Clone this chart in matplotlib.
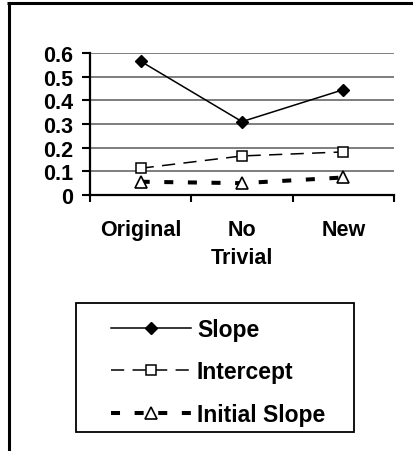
import numpy as np
import matplotlib
matplotlib.use("Agg")
import matplotlib.pyplot as plt
from matplotlib.lines import Line2D
from matplotlib.patches import Rectangle

plt.rcParams['font.family'] = ['Liberation Sans', 'DejaVu Sans']
plt.rcParams['font.weight'] = 'bold'
plt.rcParams['lines.scale_dashes'] = False

categories = ['Original', 'No\nTrivial', 'New']
slope = [0.565, 0.31, 0.445]
intercept = [0.113, 0.165, 0.182]
initial_slope = [0.056, 0.05, 0.074]

W, H = 414, 452
fig = plt.figure(figsize=(W / 100, H / 100), dpi=100)

def px(x0, y0, x1, y1):
    # pixel box (top-left origin) -> figure fraction rect
    return [x0 / W, 1 - y1 / H, (x1 - x0) / W, (y1 - y0) / H]

ax = fig.add_axes(px(90, 54, 394, 196))
x = np.arange(len(categories))

ax.plot(x, slope, color='black', lw=1.1, marker='D', ms=6.5,
        mfc='black', mec='black', label='Slope', zorder=4)
ax.plot(x, intercept, color='black', lw=1.1, dashes=(9.5, 6),
        marker='s', ms=7, mfc='white', mec='black', mew=1.1,
        label='Intercept', zorder=4)
ax.plot(x, initial_slope, color='black', lw=2.9, dashes=(6.5, 10.5),
        marker='^', ms=9, mfc='white', mec='black', mew=1.2,
        label='Initial Slope', zorder=4)

ax.set_xlim(-0.5, len(categories) - 0.5)
ax.set_ylim(0, 0.6)
ax.set_yticks(np.arange(0, 0.61, 0.1))
ax.set_yticklabels(['0', '0.1', '0.2', '0.3', '0.4', '0.5', '0.6'])
ax.yaxis.grid(True, color='#5a5a5a', lw=1.1)
ax.set_axisbelow(True)

ax.set_xticks(x)
ax.set_xticklabels(categories, fontsize=15.5, fontweight='bold', linespacing=1.45)
ax.set_xticks(np.arange(-0.5, len(categories)), minor=True)
ax.tick_params(axis='x', which='major', length=0, pad=17)
ax.tick_params(axis='x', which='minor', length=5, width=1.5, direction='out')
ax.tick_params(axis='y', length=6, width=1.5, direction='out', pad=6,
               labelsize=15.5)
for t in ax.get_yticklabels():
    t.set_fontweight('bold')

for s in ['top', 'right']:
    ax.spines[s].set_visible(False)
for s in ['left', 'bottom']:
    ax.spines[s].set_linewidth(1.6)
    ax.spines[s].set_color('black')
ax.spines['bottom'].set_zorder(5)

# legend box drawn separately so the padding can be set freely
fig.patches.append(Rectangle((76 / W, 1 - 433 / H), (354 - 76) / W, (433 - 304) / H,
                             transform=fig.transFigure, fill=False,
                             edgecolor='black', lw=1.3))
leg = fig.legend(loc='upper left', bbox_to_anchor=(111 / W, 1 - 319 / H),
                 frameon=False, fontsize=16.5, handlelength=3.5,
                 handletextpad=0.25, labelspacing=0.85, borderpad=0,
                 borderaxespad=0, numpoints=1)
for t in leg.get_texts():
    t.set_fontweight('bold')

# outer frame: left and top edges
fig.add_artist(Line2D([8.5 / W, 8.5 / W], [0, 1 - 3.5 / H], transform=fig.transFigure,
                      color='black', lw=2.2, solid_capstyle='butt'))
fig.add_artist(Line2D([7 / W, 1], [1 - 3.5 / H, 1 - 3.5 / H], transform=fig.transFigure,
                      color='black', lw=2.2, solid_capstyle='butt'))

fig.savefig('out.png', dpi=100)
